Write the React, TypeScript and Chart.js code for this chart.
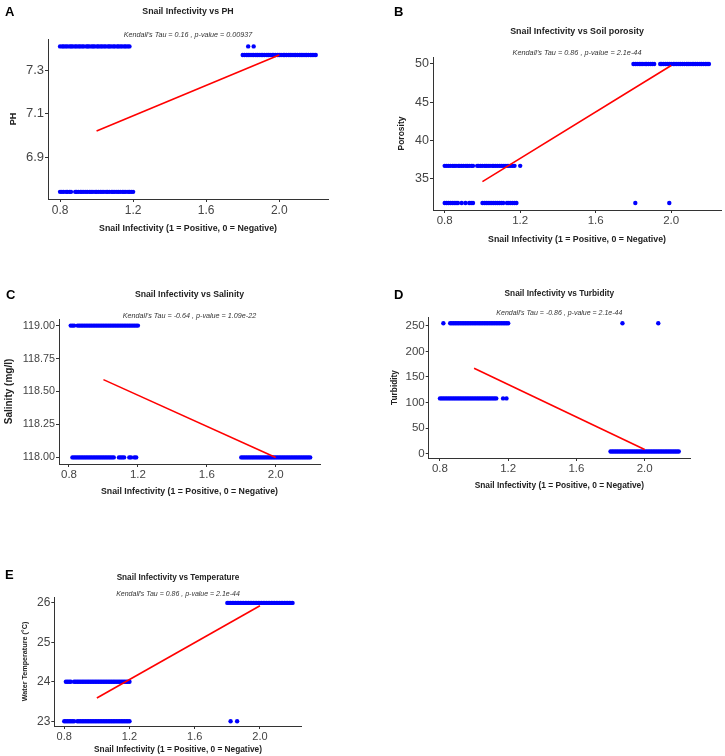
import React, { useEffect, useRef } from 'react';
import { Chart, registerables } from 'chart.js';

Chart.register(...registerables);

const FONT = "'Liberation Sans', Arial, Helvetica, sans-serif";

// ---------- shared x axis ----------
const xTickValues = [0.8, 1.2, 1.6, 2.0];
const xTickLabels = ['0.8', '1.2', '1.6', '2.0'];
const xAxisTitle = 'Snail Infectivity (1 = Positive, 0 = Negative)';

// ---------- A: PH ----------
const phHighLeftX = [0.80, 0.812, 0.82, 0.831, 0.84, 0.853, 0.861, 0.87, 0.882, 0.89, 0.902, 0.91, 0.921, 0.93, 0.944, 0.952, 0.96, 0.973, 0.981, 0.99, 1.003, 1.01, 1.022, 1.03, 1.041, 1.05, 1.063, 1.07, 1.08, 1.092, 1.10, 1.113, 1.12, 1.131, 1.14, 1.152, 1.16, 1.171, 1.18];
const phLowLeftX = [0.80, 0.81, 0.82, 0.833, 0.84, 0.852, 0.86, 0.883, 0.89, 0.90, 0.912, 0.92, 0.93, 0.941, 0.95, 0.962, 0.97, 0.98, 0.992, 1.00, 1.01, 1.021, 1.03, 1.04, 1.052, 1.06, 1.07, 1.083, 1.09, 1.10, 1.111, 1.12, 1.13, 1.142, 1.15, 1.16, 1.172, 1.18, 1.19, 1.20];
const phRightX = [1.80, 1.81, 1.822, 1.83, 1.84, 1.851, 1.86, 1.872, 1.88, 1.89, 1.901, 1.91, 1.92, 1.932, 1.94, 1.95, 1.962, 1.97, 1.98, 1.991, 2.00, 2.01, 2.022, 2.03, 2.04, 2.052, 2.06, 2.07, 2.081, 2.09, 2.10, 2.112, 2.12, 2.13, 2.141, 2.15, 2.16, 2.172, 2.18, 2.19, 2.20];
const phOutlierX = [1.83, 1.86];
const phHigh = 7.41;
const phLow = 6.74;
const phRight = 7.37;
const phFit: [number, number][] = [[1.0, 7.02], [2.0, 7.37]];
const phTicks = [6.9, 7.1, 7.3];
const phTickLabels = ['6.9', '7.1', '7.3'];

// ---------- B: Porosity ----------
const poroHighRightX = [1.80, 1.81, 1.82, 1.831, 1.84, 1.85, 1.862, 1.87, 1.88, 1.891, 1.90, 1.91, 1.942, 1.95, 1.96, 1.971, 1.98, 1.99, 2.00, 2.012, 2.02, 2.03, 2.041, 2.05, 2.06, 2.07, 2.082, 2.09, 2.10, 2.111, 2.12, 2.13, 2.14, 2.152, 2.16, 2.17, 2.181, 2.19, 2.20];
const poroMidLeftX = [0.80, 0.81, 0.82, 0.83, 0.842, 0.85, 0.86, 0.872, 0.88, 0.89, 0.90, 0.912, 0.92, 0.93, 0.942, 0.95, 0.972, 0.98, 0.99, 1.00, 1.012, 1.02, 1.03, 1.04, 1.052, 1.06, 1.07, 1.08, 1.091, 1.10, 1.11, 1.12, 1.131, 1.14, 1.15, 1.16, 1.17, 1.20];
const poroLowLeftX = [0.80, 0.81, 0.82, 0.83, 0.84, 0.85, 0.86, 0.87, 0.89, 0.91, 0.93, 0.94, 0.95, 1.00, 1.01, 1.02, 1.03, 1.04, 1.05, 1.06, 1.07, 1.08, 1.09, 1.10, 1.11, 1.13, 1.14, 1.15, 1.16, 1.17, 1.18];
const poroLowRightX = [1.81, 1.99];
const poroHigh = 50;
const poroMid = 36.67;
const poroLow = 31.8;
const poroFit: [number, number][] = [[1.0, 34.6], [2.0, 49.8]];
const poroTicks = [35, 40, 45, 50];
const poroTickLabels = ['35', '40', '45', '50'];

// ---------- C: Salinity ----------
const salHighLeftX = [0.81, 0.82, 0.83, 0.85, 0.86, 0.87, 0.88, 0.89, 0.90, 0.91, 0.92, 0.93, 0.94, 0.95, 0.96, 0.97, 0.98, 0.99, 1.00, 1.01, 1.02, 1.03, 1.04, 1.05, 1.06, 1.07, 1.08, 1.09, 1.10, 1.11, 1.12, 1.13, 1.14, 1.15, 1.16, 1.17, 1.18, 1.19, 1.20];
const salLowLeftX = [0.82, 0.83, 0.84, 0.85, 0.86, 0.87, 0.88, 0.89, 0.90, 0.91, 0.92, 0.93, 0.94, 0.95, 0.96, 0.97, 0.98, 0.99, 1.00, 1.01, 1.02, 1.03, 1.04, 1.05, 1.06, 1.09, 1.10, 1.11, 1.12, 1.15, 1.16, 1.18, 1.19];
const salLowRightX = [1.80, 1.81, 1.82, 1.83, 1.84, 1.85, 1.86, 1.87, 1.88, 1.89, 1.90, 1.91, 1.92, 1.93, 1.94, 1.95, 1.96, 1.97, 1.98, 1.99, 2.00, 2.01, 2.02, 2.03, 2.04, 2.05, 2.06, 2.07, 2.08, 2.09, 2.10, 2.11, 2.12, 2.13, 2.14, 2.15, 2.16, 2.17, 2.18, 2.19, 2.20];
const salHigh = 119;
const salLow = 118;
const salFit: [number, number][] = [[1.0, 118.59], [2.0, 118.0]];
const salTicks = [118, 118.25, 118.5, 118.75, 119];
const salTickLabels = ['118.00', '118.25', '118.50', '118.75', '119.00'];

// ---------- D: Turbidity ----------
const turbHighLeftX = [0.82, 0.86, 0.87, 0.88, 0.89, 0.90, 0.91, 0.92, 0.93, 0.94, 0.95, 0.96, 0.97, 0.98, 0.99, 1.00, 1.01, 1.02, 1.03, 1.04, 1.05, 1.06, 1.07, 1.08, 1.09, 1.10, 1.11, 1.12, 1.13, 1.14, 1.15, 1.16, 1.17, 1.18, 1.19, 1.20];
const turbMidLeftX = [0.80, 0.81, 0.82, 0.83, 0.84, 0.85, 0.86, 0.87, 0.88, 0.89, 0.90, 0.91, 0.92, 0.93, 0.94, 0.95, 0.96, 0.97, 0.98, 0.99, 1.00, 1.01, 1.02, 1.03, 1.04, 1.05, 1.06, 1.07, 1.08, 1.09, 1.10, 1.11, 1.12, 1.13, 1.17, 1.19];
const turbLowRightX = [1.80, 1.81, 1.82, 1.83, 1.84, 1.85, 1.86, 1.87, 1.88, 1.89, 1.90, 1.91, 1.92, 1.93, 1.94, 1.95, 1.96, 1.97, 1.98, 1.99, 2.00, 2.01, 2.02, 2.03, 2.04, 2.05, 2.06, 2.07, 2.08, 2.09, 2.10, 2.11, 2.12, 2.13, 2.14, 2.15, 2.16, 2.17, 2.18, 2.19, 2.20];
const turbHighRightX = [1.87, 2.08];
const turbHigh = 255;
const turbMid = 108;
const turbLow = 4;
const turbFit: [number, number][] = [[1.0, 167], [2.0, 8]];
const turbTicks = [0, 50, 100, 150, 200, 250];
const turbTickLabels = ['0', '50', '100', '150', '200', '250'];

// ---------- E: Temperature ----------
const tempHighRightX = [1.80, 1.81, 1.82, 1.83, 1.84, 1.85, 1.86, 1.87, 1.88, 1.89, 1.90, 1.91, 1.92, 1.93, 1.94, 1.95, 1.96, 1.97, 1.98, 1.99, 2.00, 2.01, 2.02, 2.03, 2.04, 2.05, 2.06, 2.07, 2.08, 2.09, 2.10, 2.11, 2.12, 2.13, 2.14, 2.15, 2.16, 2.17, 2.18, 2.19, 2.20];
const tempMidLeftX = [0.81, 0.82, 0.83, 0.84, 0.86, 0.87, 0.88, 0.89, 0.90, 0.91, 0.92, 0.93, 0.94, 0.95, 0.96, 0.97, 0.98, 0.99, 1.00, 1.01, 1.02, 1.03, 1.04, 1.05, 1.06, 1.07, 1.08, 1.09, 1.10, 1.11, 1.12, 1.13, 1.14, 1.15, 1.16, 1.17, 1.18, 1.19, 1.20];
const tempLowLeftX = [0.80, 0.81, 0.82, 0.83, 0.84, 0.85, 0.86, 0.88, 0.89, 0.90, 0.91, 0.92, 0.93, 0.94, 0.95, 0.96, 0.97, 0.98, 0.99, 1.00, 1.01, 1.02, 1.03, 1.04, 1.05, 1.06, 1.07, 1.08, 1.09, 1.10, 1.11, 1.12, 1.13, 1.14, 1.15, 1.16, 1.17, 1.18, 1.19, 1.20];
const tempLowRightX = [1.82, 1.86];
const tempHigh = 26;
const tempMid = 24;
const tempLow = 23;
const tempFit: [number, number][] = [[1.0, 23.59], [2.0, 25.93]];
const tempTicks = [23, 24, 25, 26];
const tempTickLabels = ['23', '24', '25', '26'];

type Group = { xs: number[]; y: number };

type Panel = {
  key: string;
  letter: string;
  title: string;
  subtitle: string;
  yTitle: string;
  groups: Group[];
  fit: [number, number][];
  yTicks: number[];
  yTickLabels: string[];
  xMin: number; xMax: number; yMin: number; yMax: number;
  box: { left: number; top: number; w: number; h: number };
  area: { l: number; t: number; r: number; b: number };
  letterPos: [number, number];
  titleY: number; subY: number;
  titleSize: number; subSize: number;
  xTitleY: number; xTitleSize: number;
  yTitleX: number; yTitleSize: number;
  xTickSize: number; yTickSize: number;
};

const panels: Panel[] = [
  {
    key: 'A', letter: 'A', title: 'Snail Infectivity vs PH',
    subtitle: "Kendall's Tau = 0.16 , p-value = 0.00937", yTitle: 'PH',
    groups: [
      { xs: phHighLeftX, y: phHigh }, { xs: phLowLeftX, y: phLow },
      { xs: phRightX, y: phRight }, { xs: phOutlierX, y: phHigh },
    ],
    fit: phFit, yTicks: phTicks, yTickLabels: phTickLabels,
    xMin: 0.734, xMax: 2.267, yMin: 6.707, yMax: 7.444,
    box: { left: 0, top: 0, w: 362, h: 240 },
    area: { l: 48, t: 39, r: 328, b: 199 },
    letterPos: [5, 12], titleY: 12, subY: 35, titleSize: 8.8, subSize: 7.2,
    xTitleY: 229, xTitleSize: 8.8, yTitleX: 14, yTitleSize: 9,
    xTickSize: 12, yTickSize: 13,
  },
  {
    key: 'B', letter: 'B', title: 'Snail Infectivity vs Soil porosity',
    subtitle: "Kendall's Tau = 0.86 , p-value = 2.1e-44", yTitle: 'Porosity',
    groups: [
      { xs: poroHighRightX, y: poroHigh }, { xs: poroMidLeftX, y: poroMid },
      { xs: poroLowLeftX, y: poroLow }, { xs: poroLowRightX, y: poroLow },
    ],
    fit: poroFit, yTicks: poroTicks, yTickLabels: poroTickLabels,
    xMin: 0.738, xMax: 2.264, yMin: 30.89, yMax: 50.91,
    box: { left: 362, top: 0, w: 363, h: 250 },
    area: { l: 433, t: 57, r: 722, b: 210 },
    letterPos: [32, 12], titleY: 32, subY: 53, titleSize: 8.9, subSize: 7.3,
    xTitleY: 240, xTitleSize: 8.8, yTitleX: 402, yTitleSize: 8.5,
    xTickSize: 11.5, yTickSize: 12.5,
  },
  {
    key: 'C', letter: 'C', title: 'Snail Infectivity vs Salinity',
    subtitle: "Kendall's Tau = -0.64 , p-value = 1.09e-22", yTitle: 'Salinity (mg/l)',
    groups: [
      { xs: salHighLeftX, y: salHigh }, { xs: salLowLeftX, y: salLow },
      { xs: salLowRightX, y: salLow },
    ],
    fit: salFit, yTicks: salTicks, yTickLabels: salTickLabels,
    xMin: 0.742, xMax: 2.257, yMin: 117.95, yMax: 119.05,
    box: { left: 0, top: 280, w: 362, h: 225 },
    area: { l: 59, t: 319, r: 320, b: 464 },
    letterPos: [6, 15], titleY: 15, subY: 36, titleSize: 8.7, subSize: 7.2,
    xTitleY: 492, xTitleSize: 8.75, yTitleX: 9.5, yTitleSize: 10,
    xTickSize: 11.5, yTickSize: 10.8,
  },
  {
    key: 'D', letter: 'D', title: 'Snail Infectivity vs Turbidity',
    subtitle: "Kendall's Tau = -0.86 , p-value = 2.1e-44", yTitle: 'Turbidity',
    groups: [
      { xs: turbHighLeftX, y: turbHigh }, { xs: turbMidLeftX, y: turbMid },
      { xs: turbLowRightX, y: turbLow }, { xs: turbHighRightX, y: turbHigh },
    ],
    fit: turbFit, yTicks: turbTicks, yTickLabels: turbTickLabels,
    xMin: 0.734, xMax: 2.266, yMin: -8.6, yMax: 267.2,
    box: { left: 362, top: 280, w: 363, h: 225 },
    area: { l: 428.7, t: 317, r: 690, b: 458 },
    letterPos: [32, 15], titleY: 14, subY: 33, titleSize: 8.3, subSize: 7,
    xTitleY: 485.7, xTitleSize: 8.4, yTitleX: 395, yTitleSize: 8.3,
    xTickSize: 11.5, yTickSize: 11.5,
  },
  {
    key: 'E', letter: 'E', title: 'Snail Infectivity vs Temperature',
    subtitle: "Kendall's Tau = 0.86 , p-value = 2.1e-44", yTitle: 'Water Temperature (°C)',
    groups: [
      { xs: tempHighRightX, y: tempHigh }, { xs: tempMidLeftX, y: tempMid },
      { xs: tempLowLeftX, y: tempLow }, { xs: tempLowRightX, y: tempLow },
    ],
    fit: tempFit, yTicks: tempTicks, yTickLabels: tempTickLabels,
    xMin: 0.739, xMax: 2.256, yMin: 22.88, yMax: 26.15,
    box: { left: 0, top: 540, w: 362, h: 216 },
    area: { l: 54.3, t: 597, r: 301.7, b: 726 },
    letterPos: [5, 35], titleY: 37.7, subY: 54, titleSize: 8.2, subSize: 7,
    xTitleY: 750, xTitleSize: 8.3, yTitleX: 25, yTitleSize: 7.2,
    xTickSize: 11, yTickSize: 12,
  },
];

const panelTextPlugin = {
  id: 'panelText',
  afterDraw(chart: any, _args: any, opts: any) {
    const { ctx, chartArea } = chart;
    const cx = (chartArea.left + chartArea.right) / 2;
    ctx.save();
    ctx.textBaseline = 'middle';
    ctx.textAlign = 'left';
    ctx.fillStyle = '#000000';
    ctx.font = `bold 13px ${FONT}`;
    ctx.fillText(opts.letter, opts.letterX, opts.letterY);
    ctx.textAlign = 'center';
    ctx.fillStyle = '#222222';
    ctx.font = `bold ${opts.titleSize}px ${FONT}`;
    ctx.fillText(opts.title, cx, opts.titleY);
    ctx.fillStyle = '#333333';
    ctx.font = `italic ${opts.subSize}px ${FONT}`;
    ctx.fillText(opts.subtitle, cx, opts.subY);
    ctx.restore();
  },
};

function PanelChart({ p }: { p: Panel }) {
  const ref = useRef<HTMLCanvasElement | null>(null);

  useEffect(() => {
    if (!ref.current) return;
    const { box, area } = p;
    const yW = area.l - box.left;
    const xH = box.top + box.h - area.b;
    const xLh = p.xTitleSize * 1.2;
    const yLh = p.yTitleSize * 1.2;
    const xTitlePadBottom = box.top + box.h - p.xTitleY - xLh / 2;
    const yTitlePadTop = p.yTitleX - box.left - yLh / 2;

    const datasets: any[] = p.groups.map((g) => ({
      data: g.xs.map((x) => ({ x, y: g.y })),
      showLine: false,
      pointRadius: 2.2,
      pointBackgroundColor: '#0000ff',
      pointBorderWidth: 0,
      pointBorderColor: '#0000ff',
      order: 2,
    }));
    datasets.push({
      data: p.fit.map(([x, y]) => ({ x, y })),
      showLine: true,
      borderColor: '#ff0000',
      borderWidth: 1.6,
      pointRadius: 0,
      fill: false,
      order: 1,
    });

    const chart = new Chart(ref.current, {
      type: 'scatter',
      data: { datasets },
      plugins: [panelTextPlugin as any],
      options: {
        responsive: false,
        animation: false,
        events: [],
        layout: {
          padding: { left: 0, top: area.t - box.top, right: box.left + box.w - area.r, bottom: 0 },
        },
        plugins: {
          legend: { display: false },
          tooltip: { enabled: false },
          panelText: {
            letter: p.letter, letterX: p.letterPos[0], letterY: p.letterPos[1],
            title: p.title, titleY: p.titleY, titleSize: p.titleSize,
            subtitle: p.subtitle, subY: p.subY, subSize: p.subSize,
          },
        } as any,
        scales: {
          x: {
            type: 'linear',
            min: p.xMin,
            max: p.xMax,
            afterBuildTicks: (s: any) => { s.ticks = xTickValues.map((v) => ({ value: v })); },
            afterFit: (s: any) => { s.height = xH; },
            ticks: {
              autoSkip: false,
              maxRotation: 0,
              padding: 1,
              color: '#444444',
              font: { family: FONT, size: p.xTickSize },
              callback: (v: any) => {
                const i = xTickValues.findIndex((t) => Math.abs(t - Number(v)) < 1e-9);
                return i >= 0 ? xTickLabels[i] : '';
              },
            },
            grid: { display: true, drawOnChartArea: false, drawTicks: true, tickLength: 3, color: '#333333', lineWidth: 1 },
            border: { display: true, color: '#333333', width: 1 },
            title: {
              display: true,
              text: xAxisTitle,
              color: '#222222',
              font: { family: FONT, size: p.xTitleSize, weight: 'bold' },
              padding: { top: 0, bottom: xTitlePadBottom },
            },
          },
          y: {
            type: 'linear',
            min: p.yMin,
            max: p.yMax,
            afterBuildTicks: (s: any) => { s.ticks = p.yTicks.map((v) => ({ value: v })); },
            afterFit: (s: any) => { s.width = yW; },
            ticks: {
              autoSkip: false,
              padding: 1,
              color: '#444444',
              font: { family: FONT, size: p.yTickSize },
              callback: (v: any) => {
                const i = p.yTicks.findIndex((t) => Math.abs(t - Number(v)) < 1e-9);
                return i >= 0 ? p.yTickLabels[i] : '';
              },
            },
            grid: { display: true, drawOnChartArea: false, drawTicks: true, tickLength: 3, color: '#333333', lineWidth: 1 },
            border: { display: true, color: '#333333', width: 1 },
            title: {
              display: true,
              text: p.yTitle,
              color: '#222222',
              font: { family: FONT, size: p.yTitleSize, weight: 'bold' },
              padding: { top: yTitlePadTop, bottom: 0 },
            },
          },
        },
      } as any,
    });
    return () => chart.destroy();
  }, [p]);

  return (
    <canvas
      ref={ref}
      width={p.box.w}
      height={p.box.h}
      style={{ position: 'absolute', left: p.box.left, top: p.box.top, width: p.box.w, height: p.box.h }}
    />
  );
}

export default function App() {
  return (
    <div style={{ position: 'absolute', left: 0, top: 0, width: 725, height: 756, background: '#ffffff', overflow: 'hidden' }}>
      {panels.map((p) => (
        <PanelChart key={p.key} p={p} />
      ))}
    </div>
  );
}
